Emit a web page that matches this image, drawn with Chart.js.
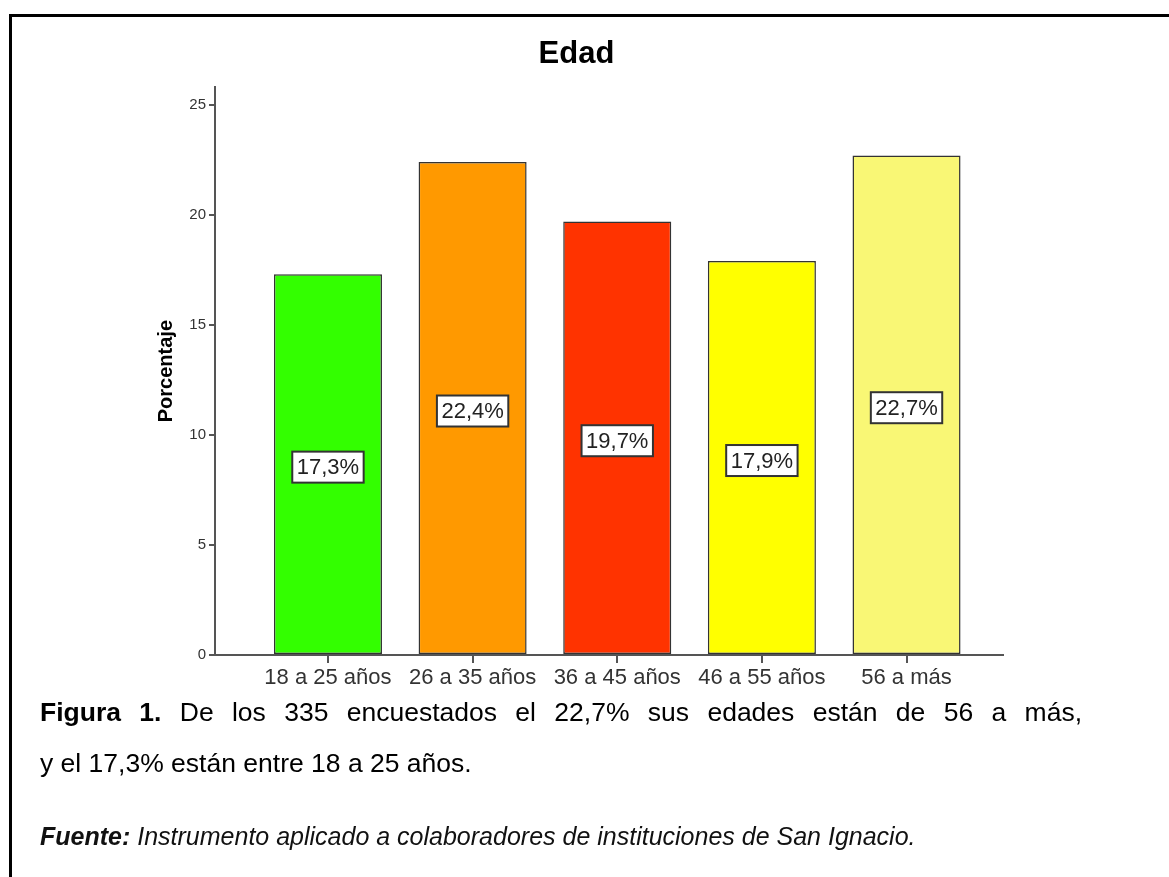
<!DOCTYPE html>
<html>
<head>
<meta charset="utf-8">
<script src="https://cdn.jsdelivr.net/npm/chart.js@4/dist/chart.umd.min.js"></script>
<style>
  html, body { margin: 0; padding: 0; background: #fff; }
  #wrap { position: relative; width: 1169px; height: 877px; overflow: hidden; font-family: "Liberation Sans", Arial, sans-serif; }
  #frame { position: absolute; left: 9px; top: 14px; right: -10px; bottom: -10px; border-top: 3px solid #000; border-left: 3px solid #000; }
  canvas { position: absolute; left: 0; top: 0; }
  .cap { position: absolute; left: 40px; font-size: 26.5px; color: #000; white-space: nowrap; line-height: 31px; }
  .just { width: 1042px; white-space: normal; text-align: justify; text-align-last: justify; }
  .src { position: absolute; left: 40px; top: 822px; font-size: 25px; font-style: italic; color: #111; white-space: nowrap; line-height: 28px; }
</style>
</head>
<body>
<div id="wrap">
  <div id="frame"></div>
  <canvas id="chart" width="1169" height="877"></canvas>
  <div class="cap just" style="top:697px"><b>Figura 1.</b> De los 335 encuestados el 22,7% sus edades están de 56 a más,</div>
  <div class="cap" style="top:748px">y el 17,3% están entre 18 a 25 años.</div>
  <div class="src"><b>Fuente:</b> Instrumento aplicado a colaboradores de instituciones de San Ignacio.</div>
</div>
<script>
const categories = ["18 a 25 años", "26 a 35 años", "36 a 45 años", "46 a 55 años", "56 a más"];
const percentages = [17.3, 22.4, 19.7, 17.9, 22.7];
const barColors = ["#33ff00", "#ff9900", "#ff3300", "#ffff00", "#f9f775"];
const yTicks = [0, 5, 10, 15, 20, 25];

const FONT = "'Liberation Sans', Arial, sans-serif";

// boxed percentage label in the middle of each bar
const valueBoxes = {
    id: "valueBoxes",
    afterDatasetsDraw(chart) {
        const ctx = chart.ctx;
        const meta = chart.getDatasetMeta(0);
        ctx.save();
        ctx.font = "22px " + FONT;
        ctx.textAlign = "center";
        ctx.textBaseline = "middle";
        meta.data.forEach((bar, i) => {
            const text = percentages[i].toFixed(1).replace(".", ",") + "%";
            const w = ctx.measureText(text).width + 9;
            const h = 31;
            const cx = bar.x;
            const cy = (bar.y + bar.base) / 2 + 3;
            ctx.fillStyle = "#fff";
            ctx.fillRect(cx - w / 2, cy - h / 2, w, h);
            ctx.lineWidth = 2;
            ctx.strokeStyle = "#333";
            ctx.strokeRect(cx - w / 2, cy - h / 2, w, h);
            ctx.fillStyle = "#222";
            ctx.fillText(text, cx, cy + 1);
        });
        ctx.restore();
    },
};

new Chart(document.getElementById("chart"), {
    type: "bar",
    data: {
        datasets: [
            {
                label: "Porcentaje",
                data: percentages.map((v, i) => ({ x: i, y: v })),
                backgroundColor: barColors,
                borderColor: "#333",
                borderWidth: 1.5,
                borderSkipped: false,
                categoryPercentage: 1,
                barPercentage: 0.747,
            },
        ],
    },
    options: {
        responsive: false,
        animation: false,
        layout: { padding: { left: 150, right: 166, top: 20, bottom: 182 } },
        plugins: {
            legend: { display: false },
            tooltip: { enabled: false },
            title: {
                display: true,
                text: "Edad",
                color: "#000",
                font: { family: FONT, size: 31, weight: "bold", lineHeight: 1.2 },
                padding: { top: 16, bottom: 14 },
            },
        },
        scales: {
            x: {
                type: "linear",
                min: -0.781,
                max: 4.667,
                offset: false,
                afterFit: (scale) => { scale.height = 40; },
                border: { color: "#555", width: 2 },
                grid: { offset: false, drawOnChartArea: false, tickLength: 8, color: "#555", lineWidth: 2 },
                ticks: {
                    stepSize: 1,
                    includeBounds: false,
                    autoSkip: false,
                    maxRotation: 0,
                    padding: 2,
                    color: "#333",
                    font: { family: FONT, size: 22 },
                    callback: (v) => (Number.isInteger(v) ? categories[v] : ""),
                },
            },
            y: {
                min: 0,
                max: 25.8,
                afterFit: (scale) => { scale.width = 65; },
                afterBuildTicks: (scale) => { scale.ticks = yTicks.map((v) => ({ value: v })); },
                border: { color: "#555", width: 2 },
                grid: { drawOnChartArea: false, tickLength: 6, color: "#555", lineWidth: 2 },
                ticks: {
                    padding: 3,
                    color: "#333",
                    font: { family: FONT, size: 15 },
                },
                title: {
                    display: true,
                    text: "Porcentaje",
                    color: "#000",
                    font: { family: FONT, size: 20, weight: "bold" },
                    padding: { top: 4, bottom: 4 },
                },
            },
        },
    },
    plugins: [valueBoxes],
});
</script>
</body>
</html>
